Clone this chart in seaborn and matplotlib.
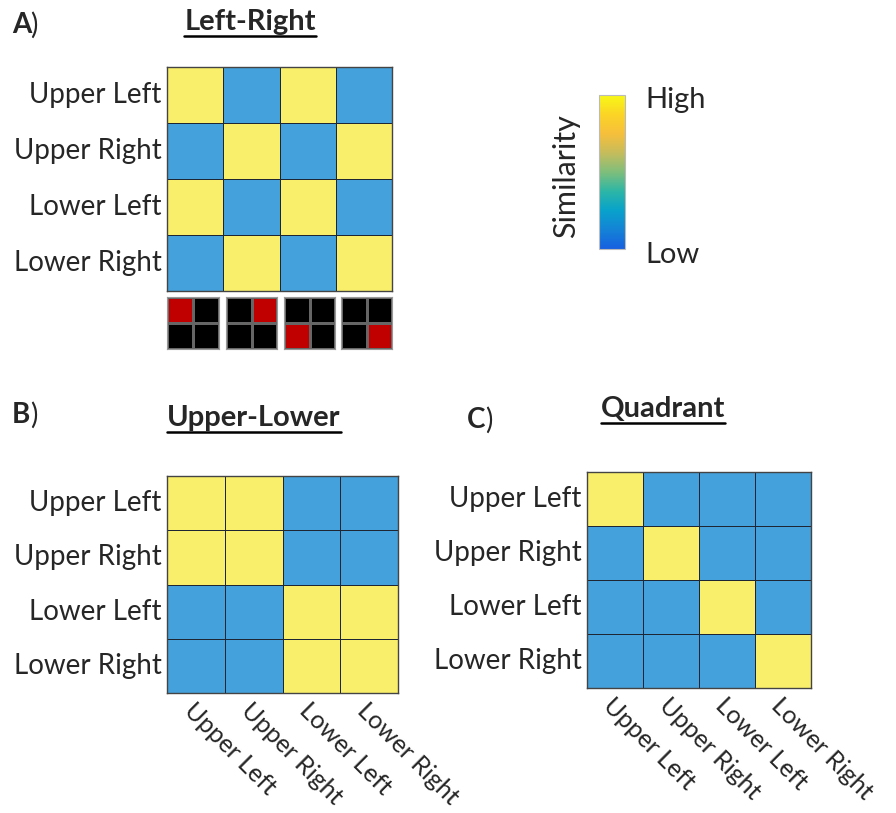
import numpy as np
import matplotlib
matplotlib.use('Agg')
import matplotlib.pyplot as plt
import seaborn as sns
from matplotlib.colors import ListedColormap, LinearSegmentedColormap, Normalize
from matplotlib.cm import ScalarMappable
from matplotlib.lines import Line2D

sns.set_style('white')
plt.rcParams['font.family'] = ['Lato', 'DejaVu Sans']

# data
labels = ['Upper Left', 'Upper Right', 'Lower Left', 'Lower Right']
left_right = [[1, 0, 1, 0],
              [0, 1, 0, 1],
              [1, 0, 1, 0],
              [0, 1, 0, 1]]
upper_lower = [[1, 1, 0, 0],
               [1, 1, 0, 0],
               [0, 0, 1, 1],
               [0, 0, 1, 1]]
quadrant = [[1, 0, 0, 0],
            [0, 1, 0, 0],
            [0, 0, 1, 0],
            [0, 0, 0, 1]]
# which cell of the 2x2 icon is red, one per column
icon_red = [(0, 0), (0, 1), (1, 0), (1, 1)]

BLUE = '#44A1DB'
YELLOW = '#FAEF6B'
sim_cmap = ListedColormap([BLUE, YELLOW])
icon_cmap = ListedColormap(['#000000', '#C00000'])
parula = LinearSegmentedColormap.from_list('parula', [
    '#1660E0', '#1483D6', '#08A2CB', '#2DB6A6', '#7FBE7B',
    '#C6BC5C', '#F6BF3B', '#FBD426', '#F8F816'])

W, H = 896, 813
fig = plt.figure(figsize=(W / 100, H / 100), dpi=100)


def box(x0, y0, x1, y1):
    return [x0 / W, 1 - y1 / H, (x1 - x0) / W, (y1 - y0) / H]


def matrix(rect, data, xlabels):
    ax = fig.add_axes(rect)
    sns.heatmap(np.array(data), ax=ax, cmap=sim_cmap, vmin=0, vmax=1, cbar=False,
                linewidths=0.7, linecolor='#1E2633', square=False,
                xticklabels=xlabels, yticklabels=labels)
    for s in ax.spines.values():
        s.set_visible(True)
        s.set_color('#444444')
        s.set_linewidth(1)
    ax.tick_params(length=0, labelsize=20, pad=4)
    ax.set_yticklabels(labels, rotation=0, va='center')
    if xlabels:
        ax.set_xticklabels(labels, rotation=-45, ha='left', va='top',
                           rotation_mode='anchor', fontsize=18)
        ax.tick_params(axis='x', pad=4)
    return ax


matrix(box(167, 67, 392, 291), left_right, False)
matrix(box(167, 476, 398, 693), upper_lower, True)
matrix(box(587, 472, 811, 688), quadrant, True)

# icons under panel A
icon_x = [(167, 219), (226, 277), (284, 335), (341, 392)]
for (x0, x1), (r, c) in zip(icon_x, icon_red):
    grid = np.zeros((2, 2))
    grid[r, c] = 1
    iax = fig.add_axes(box(x0, 297, x1, 349))
    sns.heatmap(grid, ax=iax, cmap=icon_cmap, vmin=0, vmax=1, cbar=False,
                linewidths=0.8, linecolor='#666666', xticklabels=False, yticklabels=False)
    for s in iax.spines.values():
        s.set_visible(True)
        s.set_color('#999999')
        s.set_linewidth(0.8)

# colorbar
cax = fig.add_axes(box(599, 95, 625, 249))
cb = fig.colorbar(ScalarMappable(norm=Normalize(0, 1), cmap=parula), cax=cax)
cb.set_ticks([i / 7 for i in range(1, 7)])
cax.tick_params(direction='in', length=3, color='#999999', labelright=False, right=True)
cb.outline.set_edgecolor('#BBBBBB')
fig.text(645 / W, 1 - 100 / H, 'High', fontsize=21, va='center', ha='left')
fig.text(645 / W, 1 - 255 / H, 'Low', fontsize=21, va='center', ha='left')
fig.text(566 / W, 1 - 176 / H, 'Similarity', fontsize=22, rotation=90,
         va='center', ha='center')

# panel letters
for x, y, s in [(12, 25, 'A'), (12, 415, 'B'), (467, 420, 'C')]:
    fig.text(x / W, 1 - y / H, s, fontsize=20, fontweight='bold', va='center')
    fig.text((x + 18) / W, 1 - y / H, ')', fontsize=20, va='center')

# titles with underline
titles = [(250, 22, 'Left-Right'), (254, 418, 'Upper-Lower'), (663, 409, 'Quadrant')]
fig.canvas.draw()
renderer = fig.canvas.get_renderer()
for x, y, s in titles:
    t = fig.text(x / W, 1 - y / H, s, fontsize=21, fontweight='bold',
                 ha='center', va='center')
    bb = t.get_window_extent(renderer=renderer)
    uy = (bb.y0 - 1) / H
    fig.add_artist(Line2D([bb.x0 / W, bb.x1 / W], [uy, uy], color='black',
                          lw=1.8, transform=fig.transFigure))

fig.savefig('out.png', dpi=100)
